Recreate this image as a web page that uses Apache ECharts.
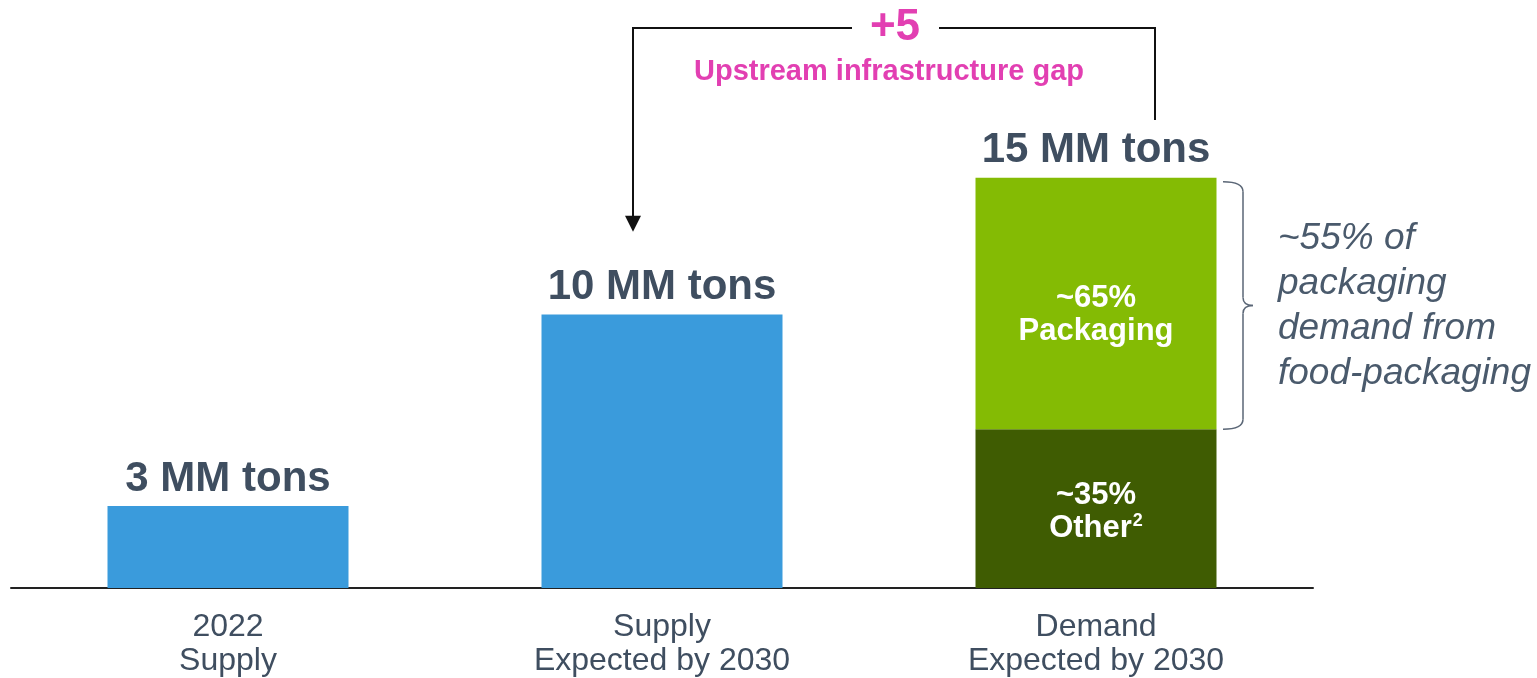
<!DOCTYPE html>
<html>
<head>
<meta charset="utf-8">
<script src="https://cdn.jsdelivr.net/npm/echarts@6/dist/echarts.min.js"></script>
<style>
  html, body { margin: 0; padding: 0; background: #fff; }
  #chart { width: 1537px; height: 678px; }
</style>
</head>
<body>
<div id="chart"></div>
<script>
// categories and values (MM tons)
const categories = ['2022\nSupply', 'Supply\nExpected by 2030', 'Demand\nExpected by 2030']
const supply = [3, 10, null]
const other = [null, null, 5.8]
const packaging = [null, null, 9.2]
const totals = [3, 10, 15]
const totalLabels = ['3 MM tons', '10 MM tons', '15 MM tons']

const textColor = '#3f4e60'
const pink = '#e23fb2'
const font = '"Liberation Sans", Arial, sans-serif'

const chart = echarts.init(document.getElementById('chart'))

chart.setOption({
  animation: false,
  grid: { left: 11, right: 224, top: 41, bottom: 90 },
  xAxis: {
    type: 'category',
    data: categories,
    axisLine: { lineStyle: { color: '#222', width: 2 } },
    axisTick: { show: false },
    axisLabel: {
      color: textColor, fontSize: 32, lineHeight: 34, margin: 22,
      fontFamily: font
    }
  },
  yAxis: { type: 'value', min: 0, max: 20, show: false },
  series: [
    {
      name: 'Supply', type: 'bar', stack: 'a', barWidth: 241,
      data: supply,
      itemStyle: { color: '#3a9bdc' },
      label: {
        show: true, position: 'top', distance: 6,
        formatter: p => totalLabels[p.dataIndex],
        color: textColor, fontSize: 42, fontWeight: 'bold', fontFamily: font
      }
    },
    {
      name: 'Other', type: 'bar', stack: 'a', barWidth: 241,
      data: other,
      itemStyle: { color: '#3f5c02' },
      label: {
        show: true, position: 'inside', offset: [0, 3],
        formatter: '~35%\nOther{sup|2}',
        color: '#fff', fontSize: 31, lineHeight: 33, fontWeight: 'bold', fontFamily: font,
        rich: { sup: { fontSize: 18, fontWeight: 'bold', color: '#fff', verticalAlign: 'top', lineHeight: 33, padding: [0, 0, 12, 1] } }
      }
    },
    {
      name: 'Packaging', type: 'bar', stack: 'a', barWidth: 241,
      data: packaging,
      itemStyle: { color: '#84bb04' },
      label: {
        show: true, position: 'inside', offset: [0, 11],
        formatter: '~65%\nPackaging',
        color: '#fff', fontSize: 31, lineHeight: 33, fontWeight: 'bold', fontFamily: font
      }
    }
  ]
})

// annotations placed through the chart's own scales
const px = (i) => chart.convertToPixel({ xAxisIndex: 0 }, i)
const py = (v) => chart.convertToPixel({ yAxisIndex: 0 }, v)

const x2 = px(1), x3 = px(2)
const yTop = py(totals[2])
const yOther = py(other[2])
const leftX = x2 - 29
const rightX = x3 + 59
const topY = 28
const midX = (leftX + rightX) / 2 + 5
const bx = x3 + 147
const bTop = yTop + 4
const bBot = yOther
const bMid = (bTop + bBot) / 2
const braceStyle = { stroke: '#5a6676', lineWidth: 1.5, fill: null }

chart.setOption({
  graphic: [
    {
      type: 'text', x: x3, y: yTop - 6,
      style: {
        text: totalLabels[2], align: 'center', verticalAlign: 'bottom',
        fill: textColor, font: 'bold 42px ' + font
      }
    },
    // bracket with gap for "+5"
    {
      type: 'polyline',
      shape: { points: [[leftX, yTop + 52], [leftX, topY], [midX - 47, topY]] },
      style: { stroke: '#111', lineWidth: 2, fill: null }
    },
    {
      type: 'polyline',
      shape: { points: [[midX + 40, topY], [rightX, topY], [rightX, 120]] },
      style: { stroke: '#111', lineWidth: 2, fill: null }
    },
    {
      type: 'polygon',
      shape: { points: [[leftX - 8, yTop + 38], [leftX + 8, yTop + 38], [leftX, yTop + 54]] },
      style: { fill: '#111' }
    },
    {
      type: 'text', x: midX - 4, y: topY,
      style: {
        text: '+5', align: 'center', verticalAlign: 'middle',
        fill: pink, font: 'bold 44px ' + font
      }
    },
    {
      type: 'text', x: midX - 10, y: 72,
      style: {
        text: 'Upstream infrastructure gap', align: 'center', verticalAlign: 'middle',
        fill: pink, font: 'bold 29px ' + font
      }
    },
    // curly brace
    { type: 'bezierCurve', shape: { x1: bx - 20, y1: bTop, cpx1: bx, cpy1: bTop, x2: bx, y2: bTop + 10 }, style: braceStyle },
    { type: 'line', shape: { x1: bx, y1: bTop + 10, x2: bx, y2: bMid - 8 }, style: braceStyle },
    { type: 'bezierCurve', shape: { x1: bx, y1: bMid - 8, cpx1: bx, cpy1: bMid, x2: bx + 10, y2: bMid }, style: braceStyle },
    { type: 'bezierCurve', shape: { x1: bx + 10, y1: bMid, cpx1: bx, cpy1: bMid, x2: bx, y2: bMid + 8 }, style: braceStyle },
    { type: 'line', shape: { x1: bx, y1: bMid + 8, x2: bx, y2: bBot - 10 }, style: braceStyle },
    { type: 'bezierCurve', shape: { x1: bx, y1: bBot - 10, cpx1: bx, cpy1: bBot, x2: bx - 20, y2: bBot }, style: braceStyle },
    {
      type: 'text', x: bx + 35, y: 216,
      style: {
        text: '~55% of\npackaging\ndemand from\nfood-packaging',
        align: 'left', verticalAlign: 'top', lineHeight: 45,
        fill: '#4a5a6c', font: 'italic 37px ' + font
      }
    }
  ]
})
</script>
</body>
</html>
